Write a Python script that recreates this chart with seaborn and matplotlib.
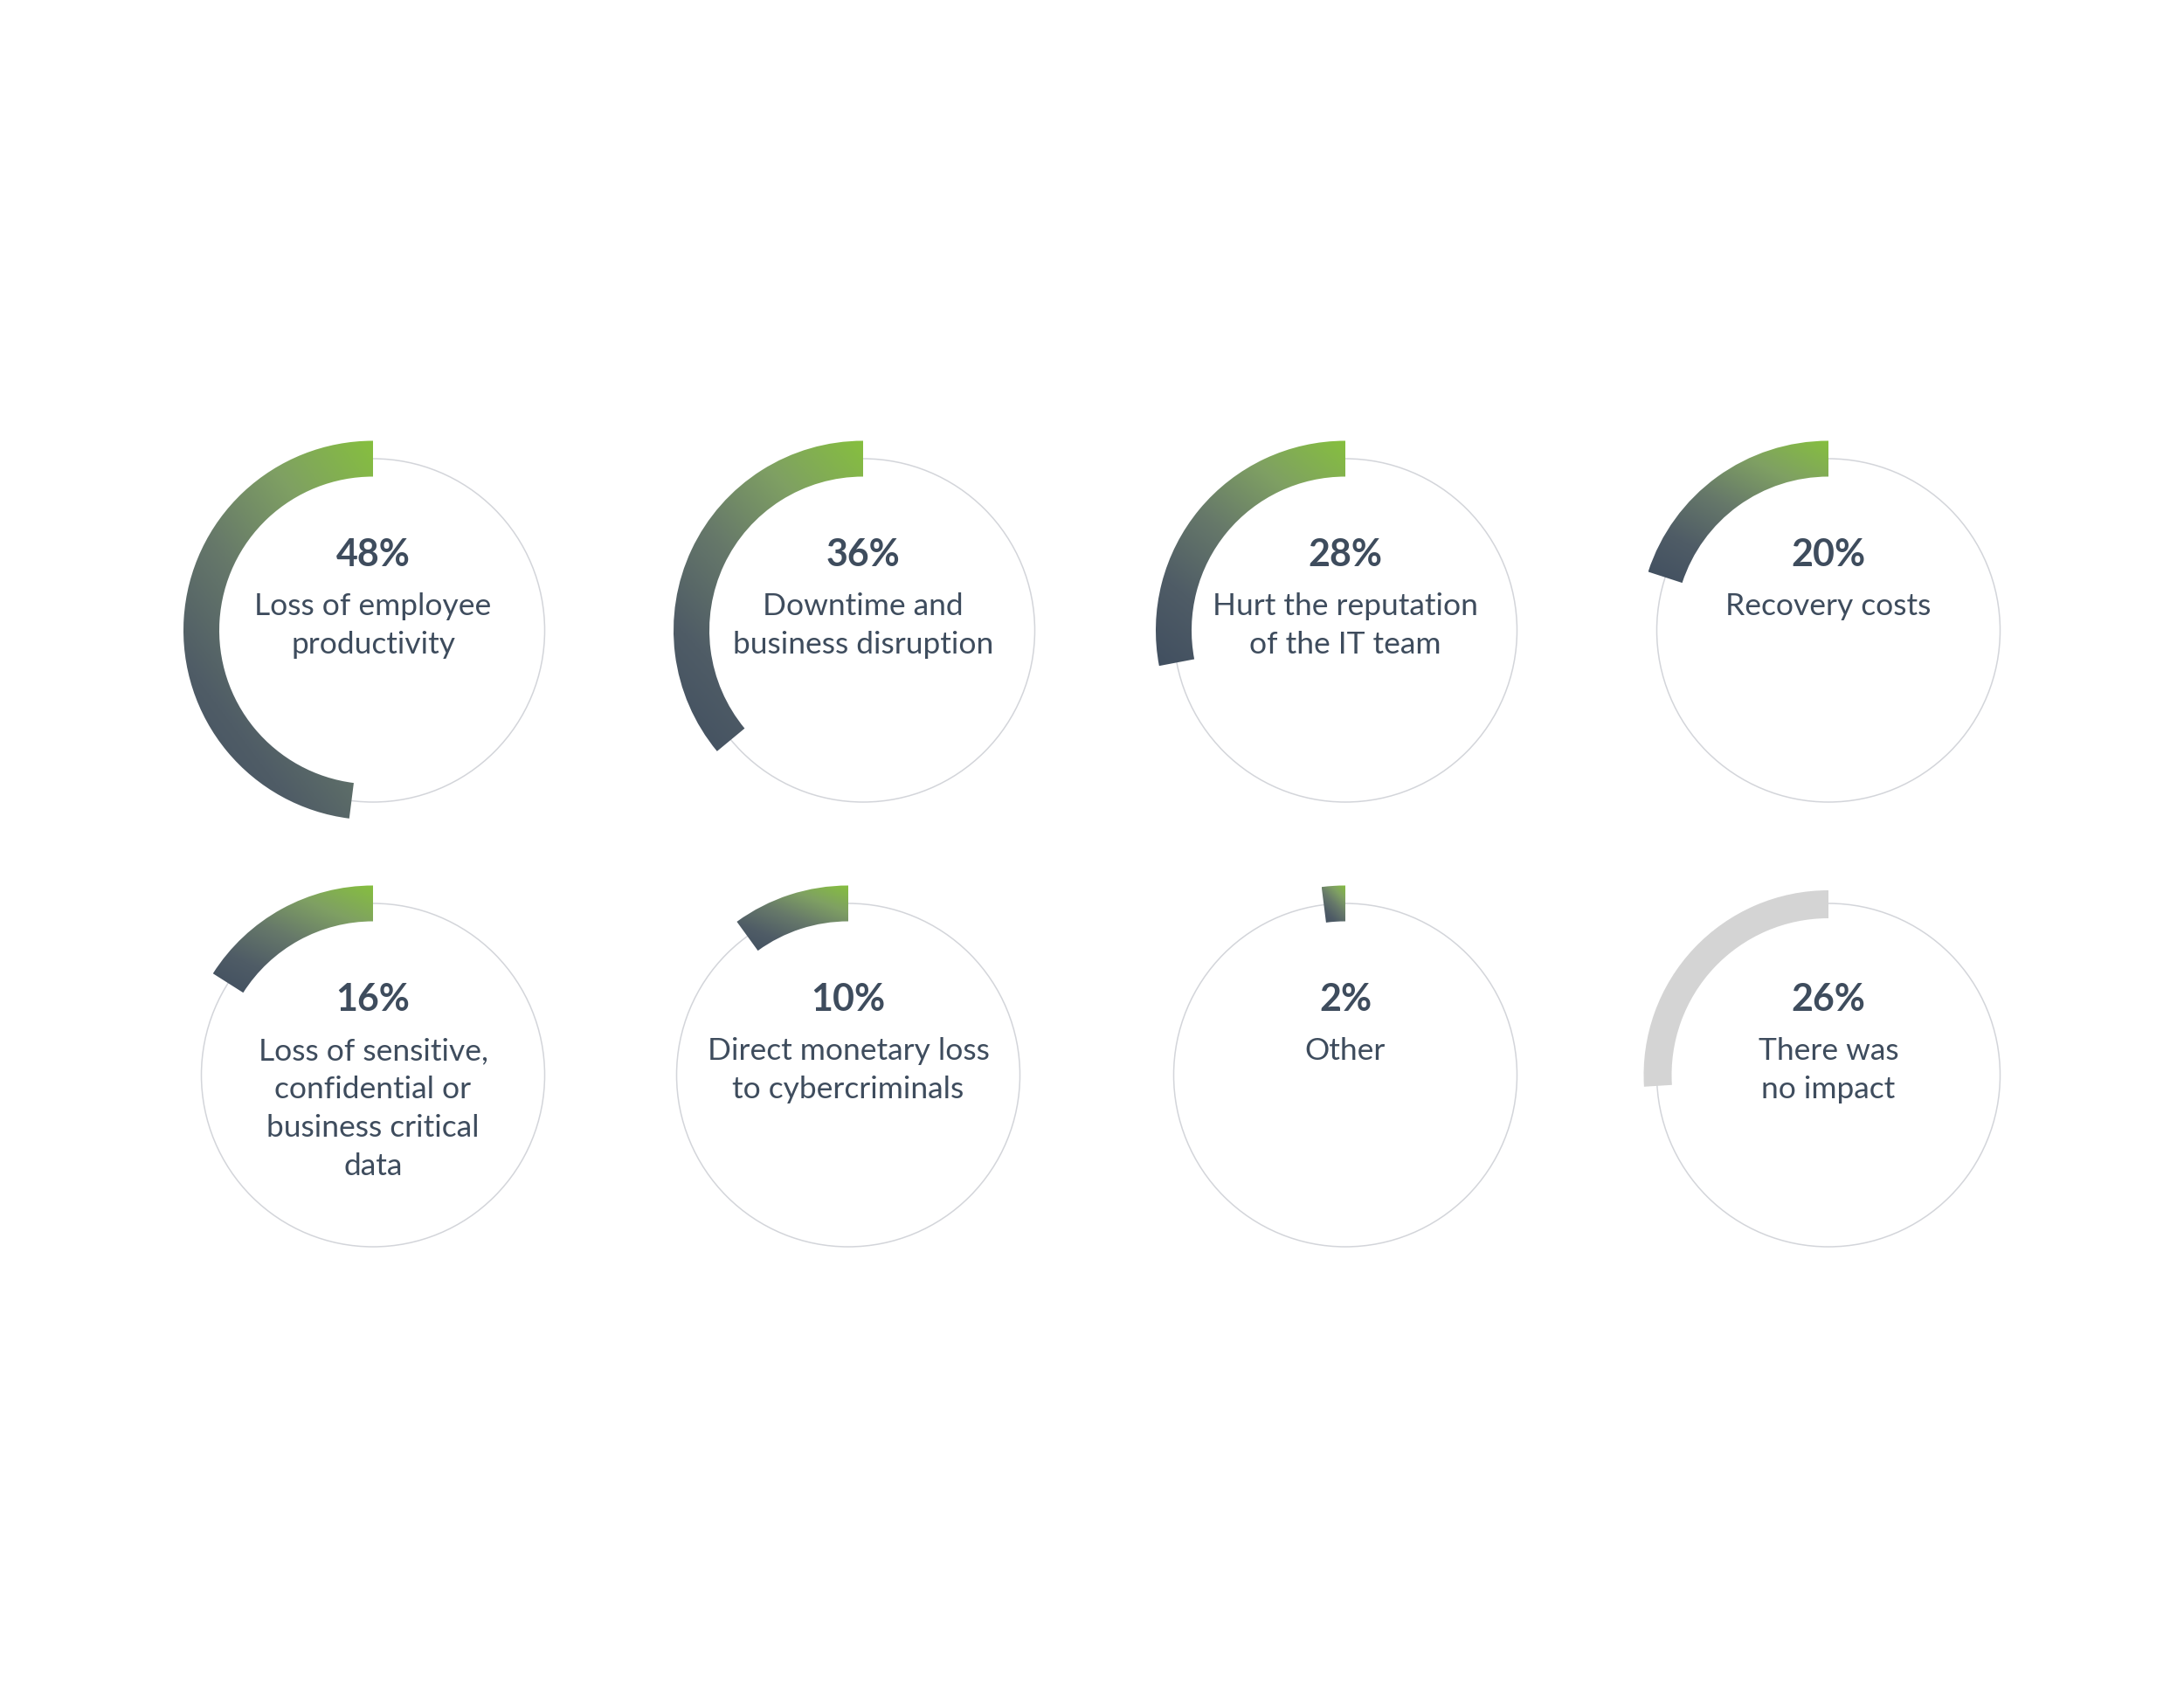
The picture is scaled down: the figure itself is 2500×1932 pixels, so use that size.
import numpy as np
import matplotlib.pyplot as plt
import seaborn as sns
from matplotlib.patches import Wedge, Circle

# values
percents = [48, 36, 28, 20, 16, 10, 2, 26]
labels = [
    "Loss of employee\nproductivity",
    "Downtime and\nbusiness disruption",
    "Hurt the reputation\nof the IT team",
    "Recovery costs",
    "Loss of sensitive,\nconfidential or\nbusiness critical\ndata",
    "Direct monetary loss\nto cybercriminals",
    "Other",
    "There was\nno impact",
]
highlight = [True, True, True, True, True, True, True, False]

# layout (pixel units, image y measured from the top)
W, H = 2500, 1932
col_x = [[427, 988, 1540, 2093], [427, 971, 1540, 2093]]
row_y = [721.5, 1230.5]
ring_r = 196.5

TEXT = "#3e4c5d"
RING = "#d3d5da"
GREY_ARC = "#d4d4d4"
grad_cmap = sns.blend_palette(
    ["#86bf3f", "#7fa063", "#66786a", "#4f5c66", "#414f60"], as_cmap=True)


def draw_arc(ax, cx, cy, pct, hl):
    theta2 = 90 + pct * 3.6
    if hl:
        wedge = Wedge((cx, cy), 217, 90, theta2, width=41,
                      facecolor="none", edgecolor="none", zorder=2)
        ax.add_patch(wedge)
        ext = wedge.get_path().get_extents()
        u, v = np.meshgrid(np.linspace(0, 1, 256), np.linspace(0, 1, 256))
        # green at top right, dark slate at bottom left
        t = 0.4 * (1 - u) + 0.6 * (1 - v)
        im = ax.imshow(t, cmap=grad_cmap, vmin=0, vmax=1, origin="lower",
                       extent=(ext.x0, ext.x1, ext.y0, ext.y1),
                       interpolation="bilinear", zorder=2, aspect="auto")
        im.set_clip_path(wedge)
    else:
        ax.add_patch(Wedge((cx, cy), 211.5, 90, theta2, width=32,
                           facecolor=GREY_ARC, edgecolor="none", zorder=2))


def main():
    sns.set_theme(style="white")
    plt.rcParams["font.family"] = ["Lato", "DejaVu Sans"]

    fig = plt.figure(figsize=(25, 19.32), dpi=100)
    fig.patch.set_facecolor("white")
    ax = fig.add_axes([0, 0, 1, 1])
    ax.set_facecolor("white")

    for i, (pct, lab, hl) in enumerate(zip(percents, labels, highlight)):
        r, c = divmod(i, 4)
        cx = col_x[r][c]
        cy = H - row_y[r]
        ax.add_patch(Circle((cx, cy), ring_r, fill=False, edgecolor=RING,
                            linewidth=1.1, zorder=1))
        draw_arc(ax, cx, cy, pct, hl)
        ax.text(cx, cy + 73.5, f"{pct}%", ha="center", va="baseline",
                fontsize=31, fontweight="bold", color=TEXT, zorder=3)
        for k, line in enumerate(lab.split("\n")):
            ax.text(cx, cy + 17.5 - 44 * k, line, ha="center", va="baseline",
                    fontsize=25.5, fontweight="normal", color=TEXT, zorder=3)

    ax.set_xlim(0, W)
    ax.set_ylim(0, H)
    ax.axis("off")

    fig.savefig("out.png", dpi=100, facecolor="white")


if __name__ == "__main__":
    main()
